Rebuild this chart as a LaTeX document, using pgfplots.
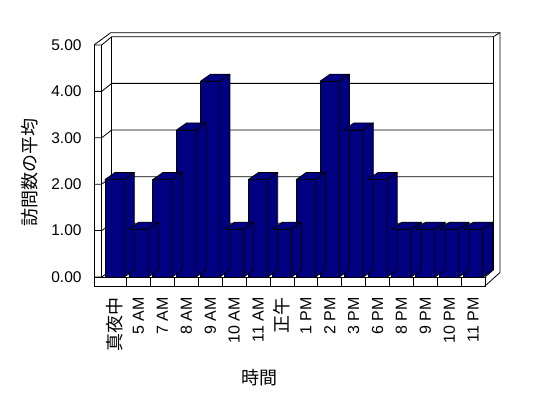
\documentclass[border=0pt]{standalone}
\usepackage{fontspec}
\setmainfont{Liberation Sans}
\newfontfamily\jp{Noto Sans CJK JP}
\usepackage{pgfplots}
\usepackage{pgfplotstable}
\pgfplotsset{compat=1.18}
\definecolor{navybar}{RGB}{0,0,128}
\pgfdeclareplotmark{emptymark}{}
\pgfplotstableread{
x v
0 2.1
1 1.03
2 2.1
3 3.17
4 4.22
5 1.03
6 2.1
7 1.03
8 2.1
9 4.22
10 3.17
11 2.1
12 1.03
13 1.03
14 1.03
15 1.03
}\visits
\begin{document}
\begin{tikzpicture}
\useasboundingbox (0,0) rectangle (548pt,398pt);
\fill[white] (0,0) rectangle (548pt,398pt);
\begin{scope}[x=1pt,y=-1pt,yshift=398pt,line width=0.8pt,line join=miter]
  % back wall gridlines and left wall slants
  \foreach \v in {0,...,5}{
    \draw (94,{277-46.4*\v}) -- (101.7,{277-46.4*\v}) -- (111.7,{270-46.65*\v}) -- (493.3,{270-46.65*\v});
  }
  % left wall
  \draw (94,45) -- (94,286);
  \draw (101.7,45) -- (101.7,277);
  \draw (111.7,36.75) -- (111.7,270);
  \draw (94,45) -- (110.7,32.7) -- (500,32.7) -- (500,272.5);
  \draw (493.3,36.75) -- (500,32.7);
  \draw (493.3,36.75) -- (493.3,270);
  % floor
  \draw (94,277) -- (485,277) -- (485,286) -- (94,286);
  \draw (485,277) -- (493.3,270);
  \draw (485,286) -- (500,272.5);
  \foreach \k in {0,...,14}{
    \draw ({126.6+23.9*\k},277) -- ({126.6+23.9*\k},286);
  }
  % axis titles
  \node[rotate=90, font=\jp\fontsize{18}{18}\selectfont] at (29.5,172.5) {訪問数の平均};
  \node[font=\jp\fontsize{18}{18}\selectfont] at (259,378) {時間};
\end{scope}
\begin{axis}[
  at={(102.7pt,121pt)}, anchor=south west,
  x=23.9pt, y=46.4pt,
  xmin=-0.5, xmax=15.5, ymin=0, ymax=5,
  clip=false,
  axis line style={draw=none},
  major tick length=0pt,
  xtick={0,...,15},
  xticklabels={{\jp\fontsize{18}{18}\selectfont 真夜中},5 AM,7 AM,8 AM,9 AM,10 AM,11 AM,{\jp\fontsize{18}{18}\selectfont 正午},1 PM,2 PM,3 PM,6 PM,8 PM,9 PM,10 PM,11 PM},
  xticklabel style={font=\fontsize{16}{16}\selectfont, yshift=-20pt, rotate=90, anchor=east, inner sep=0pt},
  ytick={0,...,5},
  /pgf/number format/assume math mode=true,
  yticklabel style={font=\fontsize{15.5}{15.5}\selectfont, anchor=east, inner sep=0pt, xshift=-21pt,
    /pgf/number format/fixed, /pgf/number format/fixed zerofill, /pgf/number format/precision=2},
]
\addplot[scatter, only marks, mark=emptymark,
  visualization depends on={value \pgfkeysvalueof{/data point/y} \as \vy},
  scatter/@pre marker code/.code={%
    \begingroup
    \pgfmathfloattofixed{\vy}\let\vyfix=\pgfmathresult
    \pgfkeys{/pgf/fpu=false}%
    \pgfmathsetlengthmacro{\hh}{\vyfix*46.4pt}%
    \filldraw[fill=navybar, draw=black, line width=0.8pt, line join=round]
      (9.65pt,0pt) -- (19.65pt,7pt) -- (19.65pt,7pt-\hh) -- (9.65pt,-\hh) -- cycle;
    \filldraw[fill=navybar, draw=black, line width=0.8pt, line join=round]
      (-9.65pt,0pt) -- (0.35pt,7pt) -- (19.65pt,7pt) -- (9.65pt,0pt) -- cycle;
    \endgroup
  },
  scatter/@post marker code/.code={},
] table[x=x, y=v] {\visits};
\addplot[ybar, bar width=19.3pt, bar shift=0pt, fill=navybar, draw=black, line width=0.8pt] table[x=x, y=v] {\visits};
\end{axis}
\end{tikzpicture}
\end{document}
